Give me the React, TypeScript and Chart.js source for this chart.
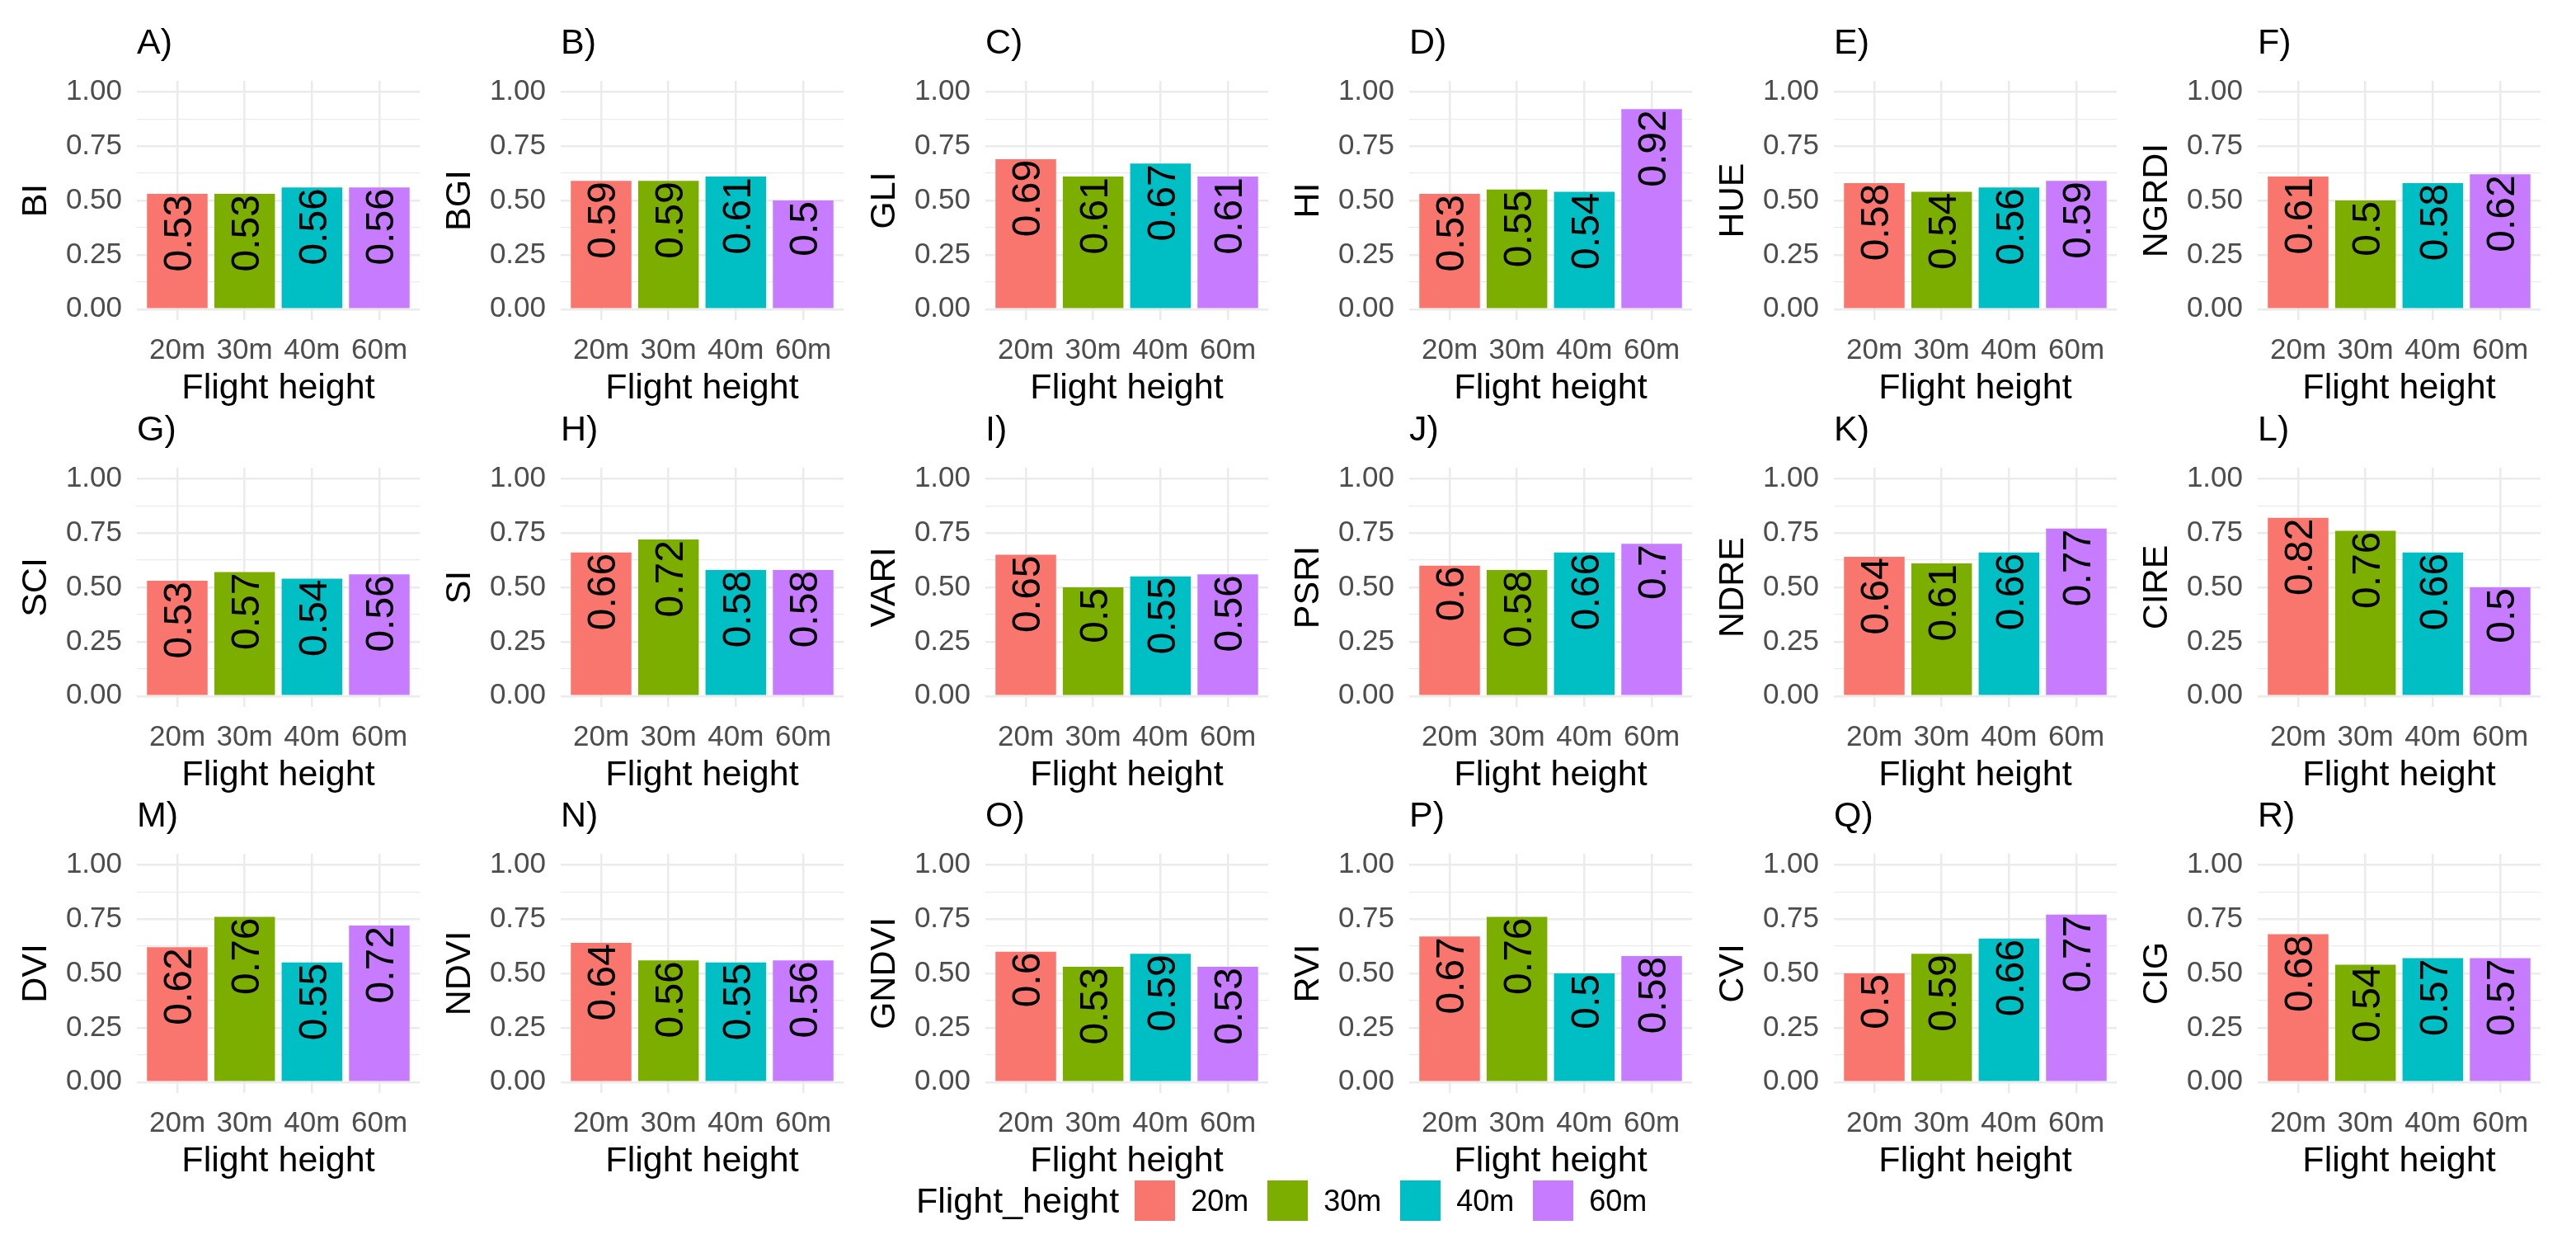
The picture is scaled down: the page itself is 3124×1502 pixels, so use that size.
import { useEffect, useRef } from 'react';
import { Chart, ChartConfiguration, registerables } from 'chart.js';

Chart.register(...registerables);

const FONT = "'Liberation Sans', Arial, sans-serif";
Chart.defaults.font.family = FONT;

const heights = ['20m', '30m', '40m', '60m'];
const heightColors = ['#F8766D', '#7CAE00', '#00BFC4', '#C77CFF'];

const indexNames = [
  'BI', 'BGI', 'GLI', 'HI', 'HUE', 'NGRDI',
  'SCI', 'SI', 'VARI', 'PSRI', 'NDRE', 'CIRE',
  'DVI', 'NDVI', 'GNDVI', 'RVI', 'CVI', 'CIG',
];
const panelTags = [
  'A)', 'B)', 'C)', 'D)', 'E)', 'F)',
  'G)', 'H)', 'I)', 'J)', 'K)', 'L)',
  'M)', 'N)', 'O)', 'P)', 'Q)', 'R)',
];

// values per flight height (20m, 30m, 40m, 60m)
const BI = [0.53, 0.53, 0.56, 0.56];
const BGI = [0.59, 0.59, 0.61, 0.5];
const GLI = [0.69, 0.61, 0.67, 0.61];
const HI = [0.53, 0.55, 0.54, 0.92];
const HUE = [0.58, 0.54, 0.56, 0.59];
const NGRDI = [0.61, 0.5, 0.58, 0.62];
const SCI = [0.53, 0.57, 0.54, 0.56];
const SI = [0.66, 0.72, 0.58, 0.58];
const VARI = [0.65, 0.5, 0.55, 0.56];
const PSRI = [0.6, 0.58, 0.66, 0.7];
const NDRE = [0.64, 0.61, 0.66, 0.77];
const CIRE = [0.82, 0.76, 0.66, 0.5];
const DVI = [0.62, 0.76, 0.55, 0.72];
const NDVI = [0.64, 0.56, 0.55, 0.56];
const GNDVI = [0.6, 0.53, 0.59, 0.53];
const RVI = [0.67, 0.76, 0.5, 0.58];
const CVI = [0.5, 0.59, 0.66, 0.77];
const CIG = [0.68, 0.54, 0.57, 0.57];

const indexValues = [
  BI, BGI, GLI, HI, HUE, NGRDI,
  SCI, SI, VARI, PSRI, NDRE, CIRE,
  DVI, NDVI, GNDVI, RVI, CVI, CIG,
];

const yBreaks = [0, 0.25, 0.5, 0.75, 1];
const yMinorBreaks = [0.125, 0.375, 0.625, 0.875];

const PANEL_W = 514;
const PANEL_H = 468;
const COL_STEP = 514.4;
const ROW_STEP = 468.5;
const LABEL_SIZE = 48;

// value labels, rotated, hanging from the top of each bar
const barLabels = {
  id: 'barLabels',
  afterDatasetsDraw(chart: Chart) {
    const { ctx } = chart;
    const meta = chart.getDatasetMeta(0);
    const data = chart.data.datasets[0].data as { x: number; y: number }[];
    ctx.save();
    ctx.font = `${LABEL_SIZE}px ${FONT}`;
    ctx.fillStyle = '#000000';
    ctx.textAlign = 'right';
    ctx.textBaseline = 'alphabetic';
    meta.data.forEach((bar, i) => {
      const { x, y } = bar.getProps(['x', 'y'], true);
      ctx.save();
      ctx.translate(x, y);
      ctx.rotate(-Math.PI / 2);
      ctx.fillText(String(data[i].y), -1, LABEL_SIZE * 0.36);
      ctx.restore();
    });
    ctx.restore();
  },
};

function IndexPanel({ name, tag, values }: { name: string; tag: string; values: number[] }) {
  const canvasRef = useRef<HTMLCanvasElement>(null);

  useEffect(() => {
    if (!canvasRef.current) return;
    const allTicks = [...yBreaks, ...yMinorBreaks].sort((a, b) => a - b);

    const config: ChartConfiguration<'bar', { x: number; y: number }[]> = {
      type: 'bar',
      data: {
        datasets: [{
          data: values.map((v, i) => ({ x: i + 1, y: v })),
          backgroundColor: heightColors,
          borderWidth: 0,
          barPercentage: 0.9,
          categoryPercentage: 1,
        }],
      },
      options: {
        animation: false,
        responsive: false,
        layout: { padding: { left: 0, right: 5, top: 0, bottom: 0 } },
        plugins: {
          legend: { display: false },
          tooltip: { enabled: false },
          title: {
            display: true,
            text: tag,
            align: 'start',
            fullSize: false,
            color: '#000000',
            font: { size: 43, lineHeight: 1, weight: 'normal' },
            padding: { top: 2, bottom: 23 },
          },
        },
        scales: {
          x: {
            type: 'linear',
            min: 0.4,
            max: 4.6,
            offset: false,
            afterBuildTicks: (s) => { s.ticks = heights.map((_, i) => ({ value: i + 1 })); },
            afterFit: (s) => { s.height = 110; },
            ticks: {
              callback: (v) => heights[Number(v) - 1] ?? '',
              color: '#4D4D4D',
              font: { size: 35 },
              padding: 16,
              maxRotation: 0,
              autoSkip: false,
            },
            grid: { color: '#EBEBEB', lineWidth: 2.5, drawTicks: false, offset: false },
            border: { display: false },
            title: {
              display: true,
              text: 'Flight height',
              color: '#000000',
              font: { size: 43 },
              padding: { top: 0, bottom: 1 },
            },
          },
          y: {
            min: -0.05,
            max: 1.05,
            afterBuildTicks: (s) => { s.ticks = allTicks.map((v) => ({ value: v })); },
            afterFit: (s) => { s.width = 166; },
            ticks: {
              callback: (v) => (yBreaks.includes(Number(v)) ? Number(v).toFixed(2) : ''),
              color: '#4D4D4D',
              font: { size: 35 },
              padding: 18,
              autoSkip: false,
            },
            grid: {
              color: '#EBEBEB',
              lineWidth: (c) => (yBreaks.includes(c.tick?.value) ? 2.5 : 1.2),
              drawTicks: false,
            },
            border: { display: false },
            title: {
              display: true,
              text: name,
              color: '#000000',
              font: { size: 43 },
              padding: { top: 18, bottom: 0 },
            },
          },
        },
      },
      plugins: [barLabels],
    };

    const chart = new Chart(canvasRef.current, config);
    return () => chart.destroy();
  }, [name, tag, values]);

  return <canvas ref={canvasRef} width={PANEL_W} height={PANEL_H} />;
}

export default function App() {
  return (
    <div style={{ position: 'absolute', left: 0, top: 0, width: 3124, height: 1502, background: '#ffffff', fontFamily: FONT }}>
      {indexNames.map((name, i) => {
        const col = i % 6;
        const row = Math.floor(i / 6);
        return (
          <div
            key={name}
            style={{
              position: 'absolute',
              left: Math.round(col * COL_STEP),
              top: Math.round(30 + row * ROW_STEP),
              width: PANEL_W,
              height: PANEL_H,
            }}
          >
            <IndexPanel name={name} tag={panelTags[i]} values={indexValues[i]} />
          </div>
        );
      })}
      <div style={{ position: 'absolute', left: 1111, top: 1431, height: 49, display: 'flex', alignItems: 'center', color: '#000' }}>
        <span style={{ fontSize: 43, marginRight: 19 }}>Flight_height</span>
        {heights.map((h, i) => (
          <div key={h} style={{ display: 'flex', alignItems: 'center' }}>
            <span style={{ width: 49, height: 49, background: heightColors[i], display: 'inline-block', marginRight: 19 }} />
            <span style={{ fontSize: 36, marginRight: i < heights.length - 1 ? 23 : 0 }}>{h}</span>
          </div>
        ))}
      </div>
    </div>
  );
}
